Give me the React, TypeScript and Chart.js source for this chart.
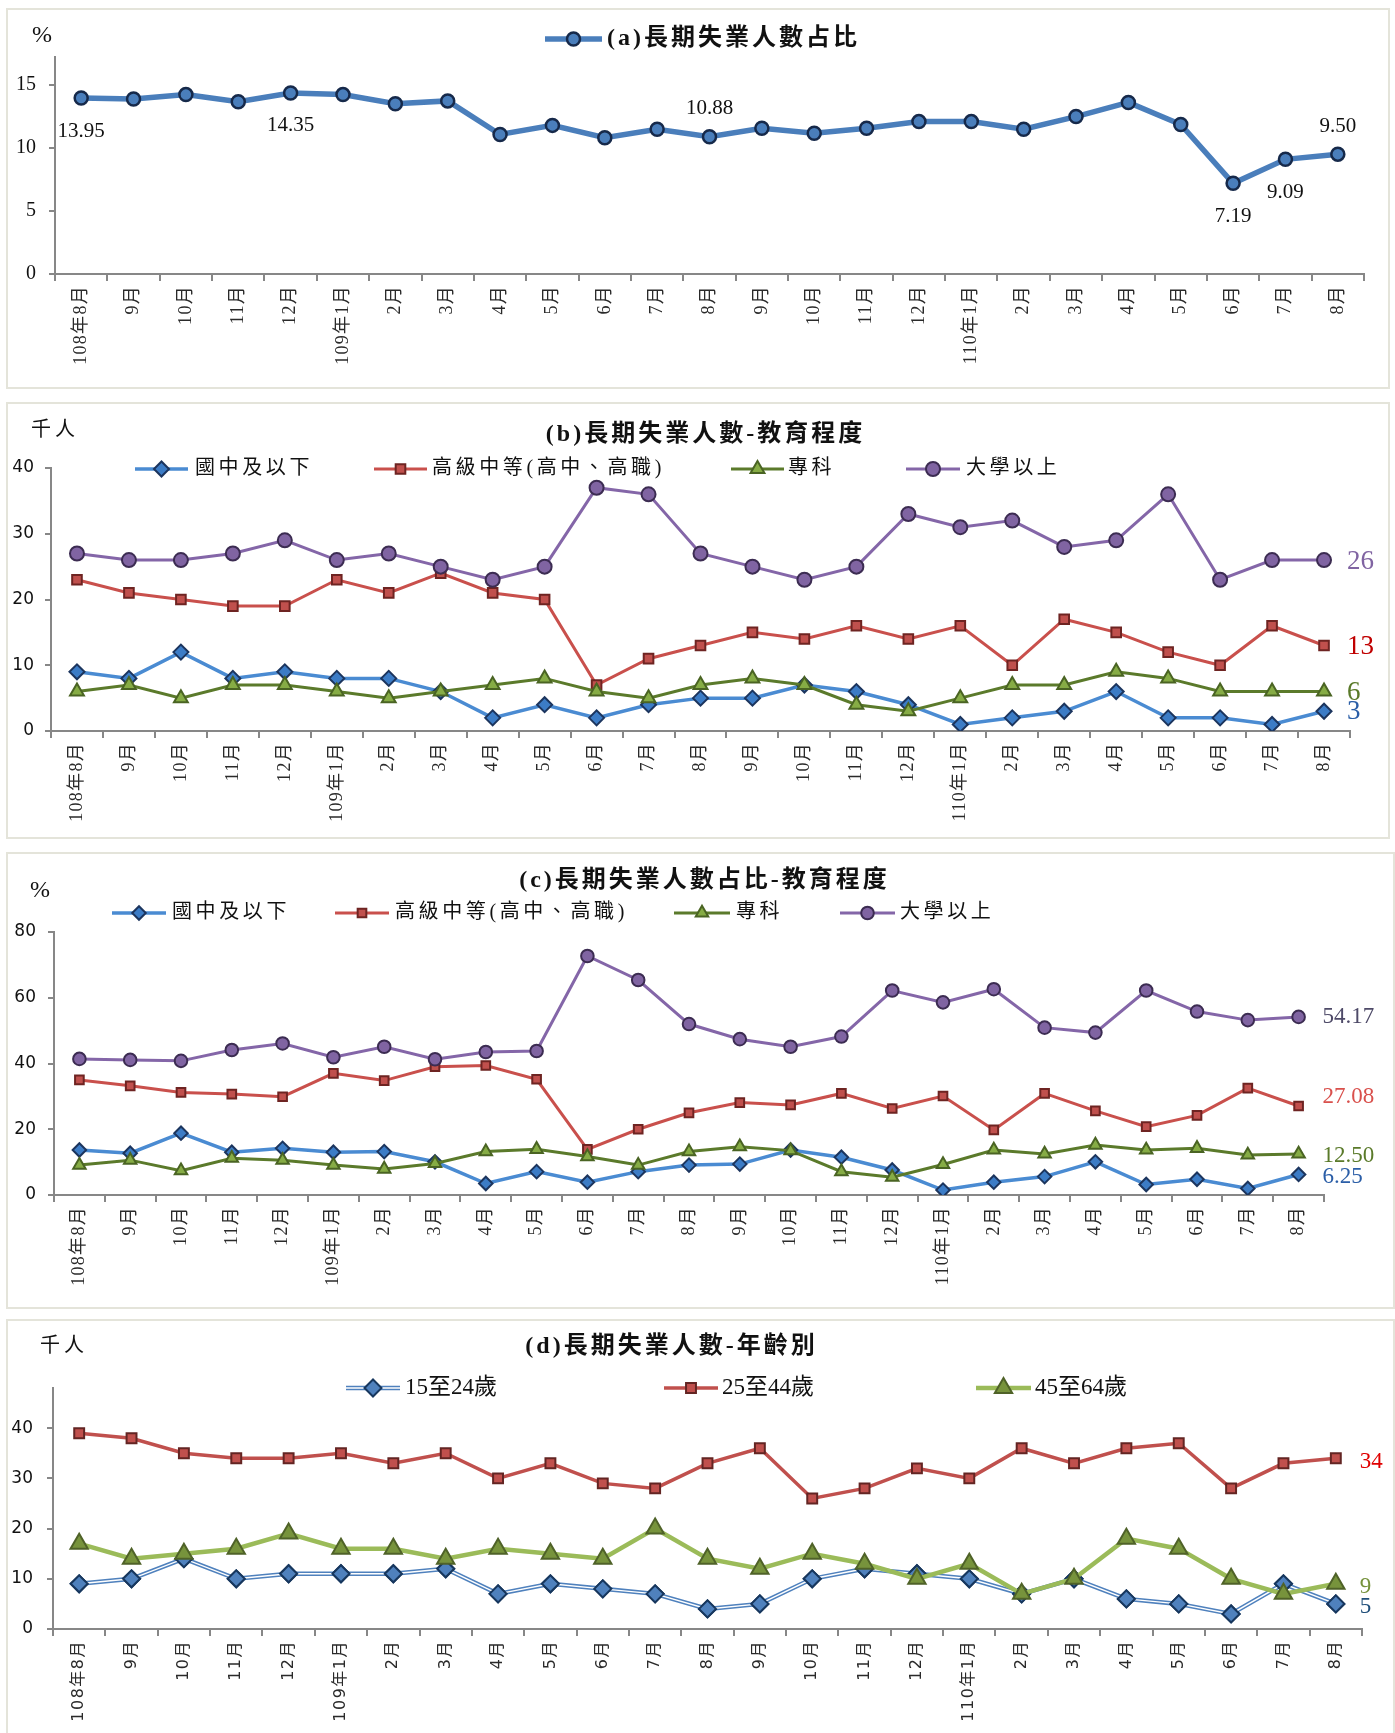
import React, { useEffect, useRef } from 'react';
import { Chart, registerables } from 'chart.js';
import { drawPoint } from 'chart.js/helpers';

Chart.register(...registerables);

// ---------------- data ----------------
const months = ['108年8月', '9月', '10月', '11月', '12月', '109年1月', '2月', '3月', '4月', '5月', '6月', '7月', '8月', '9月', '10月', '11月', '12月', '110年1月', '2月', '3月', '4月', '5月', '6月', '7月', '8月'];

// (a)
const totalShareName = '(a)長期失業人數占比';
const totalShare = [13.95, 13.87, 14.22, 13.65, 14.35, 14.22, 13.5, 13.72, 11.06, 11.78, 10.8, 11.48, 10.88, 11.55, 11.15, 11.55, 12.08, 12.08, 11.48, 12.48, 13.6, 11.85, 7.19, 9.09, 9.5];
const totalShareLabelled = [0, 4, 12, 22, 23, 24];

// (b) thousand persons by education
const eduNames = ['國中及以下', '高級中等(高中、高職)', '專科', '大學以上'];
const eduCountJunior = [9, 8, 12, 8, 9, 8, 8, 6, 2, 4, 2, 4, 5, 5, 7, 6, 4, 1, 2, 3, 6, 2, 2, 1, 3];
const eduCountSenior = [23, 21, 20, 19, 19, 23, 21, 24, 21, 20, 7, 11, 13, 15, 14, 16, 14, 16, 10, 17, 15, 12, 10, 16, 13];
const eduCountJunColl = [6, 7, 5, 7, 7, 6, 5, 6, 7, 8, 6, 5, 7, 8, 7, 4, 3, 5, 7, 7, 9, 8, 6, 6, 6];
const eduCountUniv = [27, 26, 26, 27, 29, 26, 27, 25, 23, 25, 37, 36, 27, 25, 23, 25, 33, 31, 32, 28, 29, 36, 23, 26, 26];

// (c) share (%) by education
const eduShareJunior = [13.7, 12.7, 18.8, 13.0, 14.2, 13.0, 13.2, 10.1, 3.5, 7.1, 3.9, 7.1, 9.1, 9.4, 13.7, 11.5, 7.6, 1.5, 3.9, 5.6, 10.1, 3.2, 4.8, 2.0, 6.25];
const eduShareSenior = [35.0, 33.2, 31.2, 30.7, 29.9, 37.0, 34.8, 39.0, 39.4, 35.2, 13.9, 20.0, 25.0, 28.1, 27.4, 30.9, 26.3, 30.1, 19.8, 30.9, 25.6, 20.8, 24.2, 32.5, 27.08];
const eduShareJunColl = [9.1, 10.6, 7.4, 11.2, 10.6, 9.1, 7.9, 9.6, 13.2, 13.9, 11.7, 9.1, 13.2, 14.7, 13.5, 7.1, 5.4, 9.3, 13.7, 12.5, 15.2, 13.7, 14.2, 12.2, 12.5];
const eduShareUniv = [41.4, 41.1, 40.8, 44.1, 46.1, 41.9, 45.1, 41.3, 43.5, 43.8, 72.7, 65.4, 52.0, 47.4, 45.1, 48.2, 62.2, 58.6, 62.6, 50.9, 49.4, 62.2, 55.8, 53.2, 54.17];

// (d) thousand persons by age
const ageNames = ['15至24歲', '25至44歲', '45至64歲'];
const ageYoung = [9, 10, 14, 10, 11, 11, 11, 12, 7, 9, 8, 7, 4, 5, 10, 12, 11, 10, 7, 10, 6, 5, 3, 9, 5];
const ageMid = [39, 38, 35, 34, 34, 35, 33, 35, 30, 33, 29, 28, 33, 36, 26, 28, 32, 30, 36, 33, 36, 37, 28, 33, 34];
const ageOld = [17, 14, 15, 16, 19, 16, 16, 14, 16, 15, 14, 20, 14, 12, 15, 13, 10, 13, 7, 10, 18, 16, 10, 7, 9];

const titleB = '(b)長期失業人數-教育程度';
const titleC = '(c)長期失業人數占比-教育程度';
const titleD = '(d)長期失業人數-年齡別';
const unitPercent = '%';
const unitThousand = '千人';

// ---------------- styles ----------------
const AXIS = '#878787';
const SERIF = '"Liberation Serif", "Noto Sans CJK TC", serif';
const SANS = '"DejaVu Sans", "Noto Sans CJK TC", sans-serif';
const TITLE_FONT = `bold 24px ${SERIF}`;

const styleA = { borderColor: '#4a7ebb', borderWidth: 5.5, pointStyle: 'circle', pointRadius: 6.5, pointBackgroundColor: '#4a7ebb', pointBorderColor: '#16294a', pointBorderWidth: 2.5 };

const eduStyle = (scale: number) => [
  { borderColor: '#4a8bd2', borderWidth: 3.5, pointStyle: 'rectRot', pointRadius: 7.5 * scale, pointBackgroundColor: '#3c7cc6', pointBorderColor: '#1c355e', pointBorderWidth: 2 },
  { borderColor: '#c9504c', borderWidth: 3, pointStyle: 'rect', pointRadius: 6.8 * scale, pointBackgroundColor: '#c0504d', pointBorderColor: '#6e2422', pointBorderWidth: 2 },
  { borderColor: '#5b7a2b', borderWidth: 3, pointStyle: 'triangle', pointRadius: 8 * scale, pointBackgroundColor: '#86ac45', pointBorderColor: '#4a6423', pointBorderWidth: 2 },
  { borderColor: '#8466a8', borderWidth: 3, pointStyle: 'circle', pointRadius: 7 * scale, pointBackgroundColor: '#8064a2', pointBorderColor: '#3c2c52', pointBorderWidth: 2 },
];

const ageStyle = [
  { borderColor: '#4f81bd', borderWidth: 4.5, pointStyle: 'rectRot', pointRadius: 8.5, pointBackgroundColor: '#4f81bd', pointBorderColor: '#17375e', pointBorderWidth: 2 },
  { borderColor: '#c0504d', borderWidth: 3.5, pointStyle: 'rect', pointRadius: 7, pointBackgroundColor: '#c0504d', pointBorderColor: '#632523', pointBorderWidth: 2 },
  { borderColor: '#9bbb59', borderWidth: 4.5, pointStyle: 'triangle', pointRadius: 10, pointBackgroundColor: '#77933c', pointBorderColor: '#4f6228', pointBorderWidth: 2 },
];

// ---------------- helpers ----------------
function txt(ctx: CanvasRenderingContext2D, s: string, x: number, y: number, font: string, color: string, align: 'left' | 'center' = 'left', spacing = 0) {
  ctx.save();
  ctx.font = font;
  (ctx as any).letterSpacing = spacing + 'px';
  ctx.fillStyle = color;
  ctx.textBaseline = 'middle';
  ctx.textAlign = 'left';
  let xx = x;
  if (align === 'center') xx = x - (ctx.measureText(s).width - spacing) / 2;
  ctx.fillText(s, xx, y);
  ctx.restore();
}

function legendIcon(ctx: CanvasRenderingContext2D, ds: any, x0: number, x1: number, y: number, double: boolean) {
  ctx.save();
  ctx.strokeStyle = ds.borderColor;
  ctx.lineWidth = ds.borderWidth;
  ctx.beginPath();
  ctx.moveTo(x0, y);
  ctx.lineTo(x1, y);
  ctx.stroke();
  if (double) {
    ctx.strokeStyle = '#ffffff';
    ctx.lineWidth = 1.4;
    ctx.beginPath();
    ctx.moveTo(x0, y);
    ctx.lineTo(x1, y);
    ctx.stroke();
  }
  ctx.fillStyle = ds.pointBackgroundColor;
  ctx.strokeStyle = ds.pointBorderColor;
  ctx.lineWidth = ds.pointBorderWidth;
  drawPoint(ctx, { pointStyle: ds.pointStyle, radius: ds.pointRadius, rotation: 0, borderWidth: ds.pointBorderWidth } as any, (x0 + x1) / 2, y);
  ctx.restore();
}

interface Deco {
  origin: [number, number];
  unit: { text: string; x: number; y: number; font: string; spacing: number };
  title?: { text: string; cx: number; y: number };
  legend: { y: number; items: number[][]; font: string; spacing: number; doubleIndex?: number };
  endLabels?: { dx: number; dy: number[]; font: string; colors: string[]; digits: number };
  pointLabels?: { idx: number[]; above: boolean[]; font: string; dyAbove: number; dyBelow: number };
}

function makeDeco(d: Deco) {
  return {
    id: 'deco',
    afterDraw(chart: any) {
      const ctx: CanvasRenderingContext2D = chart.ctx;
      const [ox, oy] = d.origin;
      txt(ctx, d.unit.text, d.unit.x - ox, d.unit.y - oy, d.unit.font, '#111', 'left', d.unit.spacing);
      if (d.title) txt(ctx, d.title.text, d.title.cx - ox, d.title.y - oy, TITLE_FONT, '#111', 'center', 3);
      chart.data.datasets.forEach((ds: any, i: number) => {
        const it = d.legend.items[i];
        if (!it) return;
        const y = d.legend.y - oy;
        legendIcon(ctx, ds, it[0] - ox, it[1] - ox, y, d.legend.doubleIndex === i);
        txt(ctx, ds.label, it[2] - ox, y, d.legend.font, '#111', 'left', d.legend.spacing);
      });
      if (d.endLabels) {
        const e = d.endLabels;
        chart.data.datasets.forEach((ds: any, i: number) => {
          const meta = chart.getDatasetMeta(i);
          const p = meta.data[meta.data.length - 1];
          const v = ds.data[ds.data.length - 1] as number;
          txt(ctx, v.toFixed(e.digits), p.x + e.dx, p.y + (e.dy[i] || 0), e.font, e.colors[i]);
        });
      }
      if (d.pointLabels) {
        const pl = d.pointLabels;
        const meta = chart.getDatasetMeta(0);
        const ds = chart.data.datasets[0];
        pl.idx.forEach((k, j) => {
          const p = meta.data[k];
          const v = ds.data[k] as number;
          txt(ctx, v.toFixed(2), p.x, p.y + (pl.above[j] ? pl.dyAbove : pl.dyBelow), pl.font, '#111', 'center');
        });
      }
    },
  };
}

const doubleLine = {
  id: 'doubleLine',
  afterDatasetDraw(chart: any, args: any) {
    if (args.index !== 0) return;
    const ctx: CanvasRenderingContext2D = chart.ctx;
    const pts = args.meta.data;
    ctx.save();
    ctx.strokeStyle = '#ffffff';
    ctx.lineWidth = 1.4;
    ctx.lineJoin = 'miter';
    ctx.beginPath();
    pts.forEach((p: any, i: number) => (i ? ctx.lineTo(p.x, p.y) : ctx.moveTo(p.x, p.y)));
    ctx.stroke();
    ctx.restore();
    pts.forEach((p: any) => p.draw(ctx, chart.chartArea));
  },
};

function xScale(height: number, font: string, size: number, spacing: number) {
  return {
    type: 'category',
    offset: true,
    grid: { display: true, drawOnChartArea: false, drawTicks: true, tickLength: 7, offset: true, color: AXIS, lineWidth: 2 },
    border: { display: true, color: AXIS, width: 2 },
    ticks: { autoSkip: false, maxRotation: 90, minRotation: 90, padding: 4, color: '#2a2a2a', font: { family: font, size } },
    afterFit: (s: any) => {
      s.height = height;
      // widen glyph spacing of the month labels only (the source uses a wide label font)
      if (!s.__spaced) {
        const orig = s.drawLabels.bind(s);
        s.drawLabels = (area: any) => {
          const ctx = s.ctx as any;
          const prev = ctx.letterSpacing;
          ctx.letterSpacing = spacing + 'px';
          orig(area);
          ctx.letterSpacing = prev || '0px';
        };
        s.__spaced = true;
      }
    },
  };
}

function yScale(max: number, step: number, width: number, font: string, size: number, padding: number) {
  return {
    type: 'linear',
    min: 0,
    max,
    grid: { display: true, drawOnChartArea: false, drawTicks: true, tickLength: 6, color: AXIS, lineWidth: 2 },
    border: { display: true, color: AXIS, width: 2 },
    ticks: { stepSize: step, includeBounds: false, padding, color: '#111', font: { family: font, size } },
    afterFit: (s: any) => { s.width = width; },
  };
}

function mkDatasets(names: string[], series: number[][], styles: any[]) {
  const n = series.length;
  return series.map((data, i) => ({ label: names[i], data, ...styles[i], tension: 0, order: n - i, pointHoverRadius: styles[i].pointRadius }));
}

function baseOptions(padding: any, scales: any) {
  return {
    responsive: false,
    animation: false,
    devicePixelRatio: 1,
    layout: { padding },
    events: [],
    plugins: { legend: { display: false }, title: { display: false }, tooltip: { enabled: false } },
    scales,
  };
}

// ---------------- panels ----------------
const panelA = () => ({
  type: 'line',
  data: { labels: months, datasets: mkDatasets([totalShareName], [totalShare], [styleA]) },
  options: baseOptions({ left: 0, top: 47, right: 24, bottom: 0 }, { x: xScale(113, SERIF, 18, 1.3), y: yScale(17.2, 5, 47, SERIF, 20, 13) }),
  plugins: [makeDeco({
    origin: [8, 10],
    unit: { text: unitPercent, x: 32, y: 36, font: `24px ${SERIF}`, spacing: 0 },
    legend: { y: 39, items: [[545, 602, 607]], font: TITLE_FONT, spacing: 3 },
    pointLabels: { idx: totalShareLabelled, above: [false, false, true, false, false, true], font: `21px ${SERIF}`, dyAbove: -28, dyBelow: 33 },
  })],
});

const panelB = () => ({
  type: 'line',
  data: { labels: months, datasets: mkDatasets(eduNames, [eduCountJunior, eduCountSenior, eduCountJunColl, eduCountUniv], eduStyle(1)) },
  options: baseOptions({ left: 0, top: 64, right: 38, bottom: 0 }, { x: xScale(106, SERIF, 18, 1.3), y: yScale(40, 10, 43, SANS, 17, 11) }),
  plugins: [makeDeco({
    origin: [8, 404],
    unit: { text: unitThousand, x: 31, y: 431, font: `20px ${SERIF}`, spacing: 4 },
    title: { text: titleB, cx: 704, y: 435 },
    legend: { y: 469, items: [[135, 188, 195], [374, 427, 432], [731, 784, 788], [906, 960, 966]], font: `20px ${SERIF}`, spacing: 3.6 },
    endLabels: { dx: 23, dy: [1, 1, 1, 2], font: `27px ${SERIF}`, colors: ['#2b5ea7', '#c00000', '#5a7a2a', '#8064a2'], digits: 0 },
  })],
});

const panelC = () => ({
  type: 'line',
  data: { labels: months, datasets: mkDatasets(eduNames, [eduShareJunior, eduShareSenior, eduShareJunColl, eduShareUniv], eduStyle(0.9)) },
  options: baseOptions({ left: 0, top: 78, right: 69, bottom: 0 }, { x: xScale(112, SERIF, 18, 1.3), y: yScale(80, 20, 46, SANS, 17, 12) }),
  plugins: [makeDeco({
    origin: [8, 854],
    unit: { text: unitPercent, x: 30, y: 891, font: `24px ${SERIF}`, spacing: 0 },
    title: { text: titleC, cx: 703, y: 881 },
    legend: { y: 913, items: [[112, 166, 172], [335, 389, 395], [674, 730, 736], [840, 895, 900]], font: `20px ${SERIF}`, spacing: 3.6 },
    endLabels: { dx: 24, dy: [2, -9, 2, 0], font: `23px ${SERIF}`, colors: ['#2b5ea7', '#d9504c', '#5a7a2a', '#4e4a68'], digits: 2 },
  })],
});

const panelD = () => ({
  type: 'line',
  data: { labels: months, datasets: mkDatasets(ageNames, [ageYoung, ageMid, ageOld], ageStyle) },
  options: baseOptions({ left: 0, top: 67, right: 31, bottom: 0 }, { x: xScale(112, SANS, 16, 1.5), y: yScale(48, 10, 45, SANS, 17, 14) }),
  plugins: [makeDeco({
    origin: [8, 1321],
    unit: { text: unitThousand, x: 40, y: 1347, font: `20px ${SERIF}`, spacing: 4 },
    title: { text: titleD, cx: 670, y: 1347 },
    legend: { y: 1388, items: [[346, 400, 405], [664, 718, 722], [976, 1031, 1035]], font: `23px ${SERIF}`, spacing: 0, doubleIndex: 0 },
    endLabels: { dx: 24, dy: [3, 4, 3], font: `23px ${SERIF}`, colors: ['#1f4e79', '#e00000', '#76923c'], digits: 0 },
  }), doubleLine],
});

// ---------------- components ----------------
function Panel({ left, top, width, height, make }: { left: number; top: number; width: number; height: number; make: () => any }) {
  const ref = useRef<HTMLCanvasElement>(null);
  const w = width - 4;
  const h = height - 4;
  useEffect(() => {
    const chart = new Chart(ref.current as HTMLCanvasElement, make());
    return () => chart.destroy();
  }, []);
  return (
    <div style={{ position: 'absolute', left, top, width, height, border: '2px solid #e4e4da', boxSizing: 'border-box', background: '#ffffff' }}>
      <canvas ref={ref} width={w} height={h} style={{ display: 'block', width: w, height: h }} />
    </div>
  );
}

export default function App() {
  return (
    <div style={{ position: 'absolute', left: 0, top: 0, width: 1395, height: 1733, overflow: 'hidden', background: '#ffffff' }}>
      <Panel left={6} top={8} width={1384} height={381} make={panelA} />
      <Panel left={6} top={402} width={1384} height={437} make={panelB} />
      <Panel left={6} top={852} width={1389} height={457} make={panelC} />
      <Panel left={6} top={1319} width={1389} height={424} make={panelD} />
    </div>
  );
}
